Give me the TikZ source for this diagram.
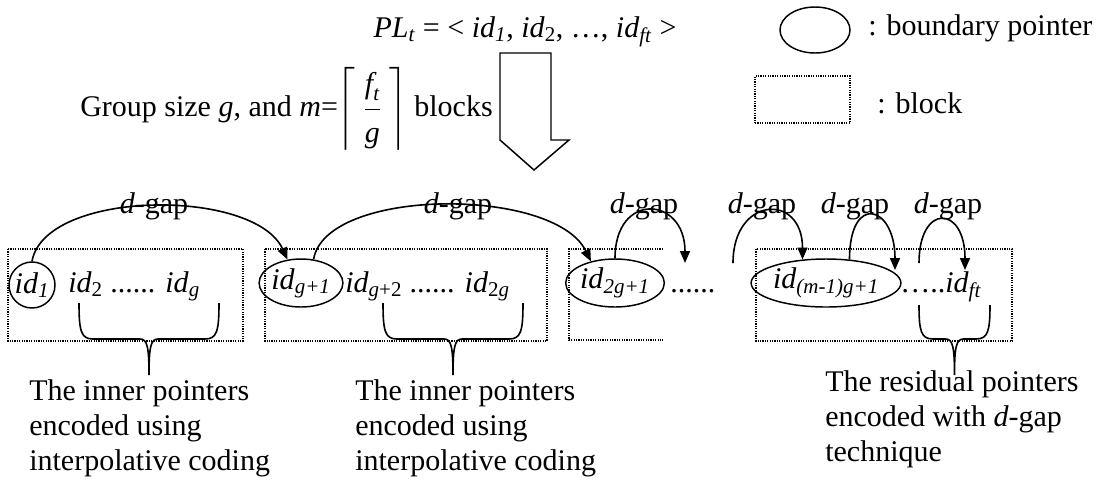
\documentclass[tikz,border=0pt]{standalone}
\usepackage{amsmath}
\usepackage{fontspec}
\setmainfont{Liberation Serif}
\usetikzlibrary{arrows.meta,shapes.geometric}

\newcommand{\pid}[1]{\textit{id}\textsubscript{#1}}
% curly brace under a run of pointers: left x, right x, top y
\newcommand{\gbrace}[3]{%
  \draw[brace] (#1,#3) .. controls (#1,331) and ({#1+2},339) .. ({#1+14},339)
    -- ({(#1+#2)/2-9},339) .. controls ({(#1+#2)/2-2},339) and ({(#1+#2)/2},346) .. ({(#1+#2)/2},375)
    .. controls ({(#1+#2)/2},346) and ({(#1+#2)/2+2},339) .. ({(#1+#2)/2+9},339)
    -- ({#2-14},339) .. controls ({#2-2},339) and (#2,331) .. (#2,#3);}

\begin{document}
\begin{tikzpicture}[x=0.75pt,y=-0.75pt,font=\fontsize{22.5}{26.25}\selectfont,inner sep=0pt,
  bptr/.style={draw,ellipse,line width=1.1pt,minimum height=36pt},
  blk/.style={line width=1.1pt,dash pattern=on 0.9pt off 0.9pt},
  dgap/.style={-{Triangle[length=9pt,width=7.5pt]},line width=1.2pt},
  brace/.style={line width=1.2pt},
  note/.style={align=left,anchor=north west}]
\useasboundingbox (0,0) rectangle (1107,480);

% header
\node[anchor=base] (plist) at (525,37) {\textit{PL}\textsubscript{\textit{t}} = < \pid{\textit{1}}, \pid{2}, …, \pid{\textit{ft}} >};
\node[anchor=base west] (grp) at (80,116) {Group size \textit{g}, and \textit{m}=$\displaystyle\left\lceil\;\frac{\textit{f}_{\textit{t}}\rule[-9pt]{0pt}{9pt}}{\rule{0pt}{22pt}\textit{g}}\;\right\rceil$ blocks};
\draw[line width=1.1pt] (500,53) -- (551,53) -- (551,140) -- (569,140) -- (534,170) -- (500,140) -- cycle;

% legend
\node[bptr,minimum width=52.5pt,minimum height=34.5pt] (legE) at (815,30) {};
\node[anchor=base west] (legEt) at (868,35) {: boundary pointer};
\node[draw,blk,minimum width=71.25pt,minimum height=35.25pt] (legR) at (802.5,99.5) {};
\node[anchor=base west] (legRt) at (877,113) {: block};

% blocks
\draw[blk] (8,249) rectangle (243,341);
\draw[blk] (265,249) rectangle (547,341);
\draw[blk] (663,249) -- (569,249) -- (569,340) -- (663,340);
\draw[blk] (756,249) rectangle (1012,341);

% boundary pointers and the rest of each block
\node[draw,circle,line width=1.1pt,minimum size=34.5pt] (b1) at (32,285) {\pid{\textit{1}}};
\node[bptr,minimum width=54pt] (b2) at (301,283) {\pid{\textit{g+1}}};
\node[bptr,minimum width=70.5pt] (b3) at (615,283) {\pid{\textit{2g+1}}};
\node[bptr,minimum width=106.5pt] (b4) at (826,283) {\pid{\textit{(m-1)g+1}}};
\node[anchor=base west] (t1) at (68,292) {\pid{2} ...... \pid{\textit{g}}};
\node[anchor=base west] (t2) at (345,292) {\pid{\textit{g}+2} ...... \pid{2\textit{g}}};
\node[anchor=base west] (t3) at (670,292) {......};
\node[anchor=base west] (t4) at (900,292) {…..\pid{\textit{ft}}};

% d-gap links
\coordinate (g3end) at (685,263);
\coordinate (g4start) at (733,263);
\coordinate (g5end) at (895,270);
\coordinate (g6start) at (919,263);
\coordinate (g6end) at (965,270);
\draw[dgap] (b1.north) .. controls +(13,-72) and +(-33,-72) .. (b2.120);
\draw[dgap] (b2.62) .. controls +(12,-72) and +(-37,-75) .. (b3.138);
\draw[dgap] (b3.north) .. controls +(0,-67) and +(0,-67) .. (g3end);
\draw[dgap] (g4start) .. controls +(0,-67) and +(0,-67) .. (b4.135);
\draw[dgap] (b4.45) .. controls +(0,-67) and +(0,-65) .. (g5end);
\draw[dgap] (g6start) .. controls +(0,-60) and +(0,-65) .. (g6end);
\node[anchor=base] (lb1) at (154,213) {\textit{d}-gap};
\node[anchor=base] (lb2) at (458,213) {\textit{d}-gap};
\node[anchor=base] (lb3) at (644,213) {\textit{d}-gap};
\node[anchor=base] (lb4) at (762,213) {\textit{d}-gap};
\node[anchor=base] (lb5) at (855,213) {\textit{d}-gap};
\node[anchor=base] (lb6) at (948,213) {\textit{d}-gap};

% braces and notes
\gbrace{79}{219}{303}
\gbrace{383}{523}{303}
\gbrace{919}{990}{305}
\node[note] (n1) at (29,379) {The inner pointers\\encoded using\\interpolative coding};
\node[note] (n2) at (355,379) {The inner pointers\\encoded using\\interpolative coding};
\node[note] (n3) at (825,370) {The residual pointers\\encoded with \textit{d}-gap\\technique};
\end{tikzpicture}
\end{document}
